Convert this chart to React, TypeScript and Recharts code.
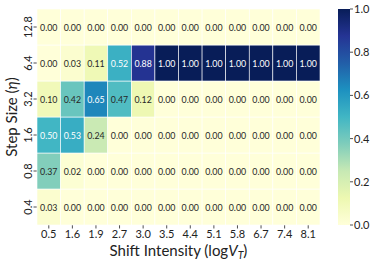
import React from "react";
import { ScatterChart, Scatter, XAxis, YAxis, BarChart, Bar } from "recharts";

const xLabels = ["0.5", "1.6", "1.9", "2.7", "3.0", "3.5", "4.4", "5.1", "5.8", "6.7", "7.4", "8.1"];
const yLabels = ["0.4", "0.8", "1.6", "3.2", "6.4", "12.8"];

const row04 = [0.03, 0.0, 0.0, 0.0, 0.0, 0.0, 0.0, 0.0, 0.0, 0.0, 0.0, 0.0];
const row08 = [0.37, 0.02, 0.0, 0.0, 0.0, 0.0, 0.0, 0.0, 0.0, 0.0, 0.0, 0.0];
const row16 = [0.5, 0.53, 0.24, 0.0, 0.0, 0.0, 0.0, 0.0, 0.0, 0.0, 0.0, 0.0];
const row32 = [0.1, 0.42, 0.65, 0.47, 0.12, 0.0, 0.0, 0.0, 0.0, 0.0, 0.0, 0.0];
const row64 = [0.0, 0.03, 0.11, 0.52, 0.88, 1.0, 1.0, 1.0, 1.0, 1.0, 1.0, 1.0];
const row128 = [0.0, 0.0, 0.0, 0.0, 0.0, 0.0, 0.0, 0.0, 0.0, 0.0, 0.0, 0.0];
const rows = [row04, row08, row16, row32, row64, row128];

const cbarTicks = [0, 0.2, 0.4, 0.6, 0.8, 1.0];

const cells = rows.flatMap((r, yi) => r.map((v, xi) => ({ x: xi, y: yi, v })));

const STOPS = ["#ffffd9", "#edf8b1", "#c7e9b4", "#7fcdbb", "#41b6c4", "#1d91c0", "#225ea8", "#253494", "#081d58"];

function hex(h: string) {
  return [parseInt(h.slice(1, 3), 16), parseInt(h.slice(3, 5), 16), parseInt(h.slice(5, 7), 16)];
}
function cmap(t: number) {
  const p = Math.max(0, Math.min(1, t)) * (STOPS.length - 1);
  const i = Math.min(STOPS.length - 2, Math.floor(p));
  const f = p - i;
  const a = hex(STOPS[i]);
  const b = hex(STOPS[i + 1]);
  const c = a.map((av, k) => Math.round(av + (b[k] - av) * f));
  return `rgb(${c[0]},${c[1]},${c[2]})`;
}

const W = 374;
const H = 263;
const M = { top: 9, right: 54, left: 8, bottom: 0 };
const YW = 29;
const XH = 38;
const plotW = W - M.left - YW - M.right;
const plotH = H - M.top - M.bottom - XH;
const CW = plotW / xLabels.length;
const CH = plotH / yLabels.length;

const FONT = "Lato, 'DejaVu Sans', sans-serif";

const CellShape = (props: any) => {
  const { cx, cy, payload } = props;
  const v = payload.v;
  return (
    <g>
      <rect x={cx - CW / 2} y={cy - CH / 2} width={CW} height={CH} fill={cmap(v)} stroke="#ffffff" strokeWidth={0.6} />
      <text
        x={cx}
        y={cy}
        textAnchor="middle"
        dominantBaseline="central"
        fontSize={8.8}
        fontFamily={FONT}
        fill={v >= 0.5 ? "#ffffff" : "#262626"}
      >
        {v.toFixed(2)}
      </text>
    </g>
  );
};

const YTick = (props: any) => {
  const { x, y, payload } = props;
  return (
    <text
      transform={`translate(${x - 4},${y}) rotate(-90)`}
      textAnchor="middle"
      dominantBaseline="central"
      fontSize={11}
      fontFamily={FONT}
      fill="#222"
    >
      {yLabels[payload.value]}
    </text>
  );
};

const XTitle = (props: any) => {
  const { viewBox } = props;
  const cx = viewBox.x + viewBox.width / 2;
  return (
    <text x={cx} y={viewBox.y + 30.5} textAnchor="middle" fontSize={15} fontFamily={FONT} fill="#222">
      <tspan>Shift Intensity (log</tspan>
      <tspan fontStyle="italic">V</tspan>
      <tspan fontStyle="italic" fontSize={10.5} dy={3}>T</tspan>
      <tspan dy={-3}>)</tspan>
    </text>
  );
};

const YTitle = (props: any) => {
  const { viewBox } = props;
  const cy = viewBox.y + viewBox.height / 2;
  return (
    <text transform={`translate(${16.5},${cy}) rotate(-90)`} textAnchor="middle" fontSize={15} fontFamily={FONT} fill="#222">
      <tspan>Step Size (</tspan>
      <tspan fontStyle="italic">η</tspan>
      <tspan>)</tspan>
    </text>
  );
};

export default function App() {
  return (
    <div style={{ position: "absolute", left: 0, top: 0, width: W, height: H, fontFamily: FONT }}>
      <div style={{ position: "absolute", left: 0, top: 0 }}>
        <ScatterChart width={W} height={H} margin={M}>
          <XAxis
            type="number"
            dataKey="x"
            domain={[-0.5, xLabels.length - 0.5]}
            ticks={xLabels.map((_, i) => i)}
            tickFormatter={(i: number) => xLabels[i]}
            interval={0}
            height={XH}
            axisLine={false}
            tickSize={3.5}
            tickMargin={1.5}
            tickLine={{ stroke: "#222", strokeWidth: 0.8 }}
            tick={{ fontSize: 11, fill: "#222", fontFamily: FONT }}
            label={<XTitle />}
          />
          <YAxis
            type="number"
            dataKey="y"
            domain={[-0.5, yLabels.length - 0.5]}
            ticks={yLabels.map((_, i) => i)}
            interval={0}
            width={YW}
            axisLine={false}
            tickSize={3.5}
            tickMargin={2}
            tickLine={{ stroke: "#222", strokeWidth: 0.8 }}
            tick={<YTick />}
            label={<YTitle />}
          />
          <Scatter data={cells} shape={<CellShape />} isAnimationActive={false} />
        </ScatterChart>
      </div>
      <div style={{ position: "absolute", left: 318, top: 0 }}>
        <BarChart width={56} height={H} margin={{ top: 9, right: 0, left: 20, bottom: 38 }} data={[{ v: 1 }]} barCategoryGap={0}>
          <defs>
            <linearGradient id="cbar" x1="0" y1="1" x2="0" y2="0">
              {STOPS.map((c, i) => (
                <stop key={i} offset={i / (STOPS.length - 1)} stopColor={c} />
              ))}
            </linearGradient>
          </defs>
          <XAxis hide />
          <YAxis
            orientation="right"
            domain={[0, 1]}
            ticks={cbarTicks}
            tickFormatter={(v: number) => v.toFixed(1)}
            width={24}
            axisLine={false}
            tickSize={3}
            tickMargin={1}
            tickLine={{ stroke: "#222", strokeWidth: 0.8 }}
            tick={{ fontSize: 11, fill: "#222", fontFamily: FONT }}
            interval={0}
          />
          <Bar dataKey="v" fill="url(#cbar)" isAnimationActive={false} />
        </BarChart>
      </div>
    </div>
  );
}
